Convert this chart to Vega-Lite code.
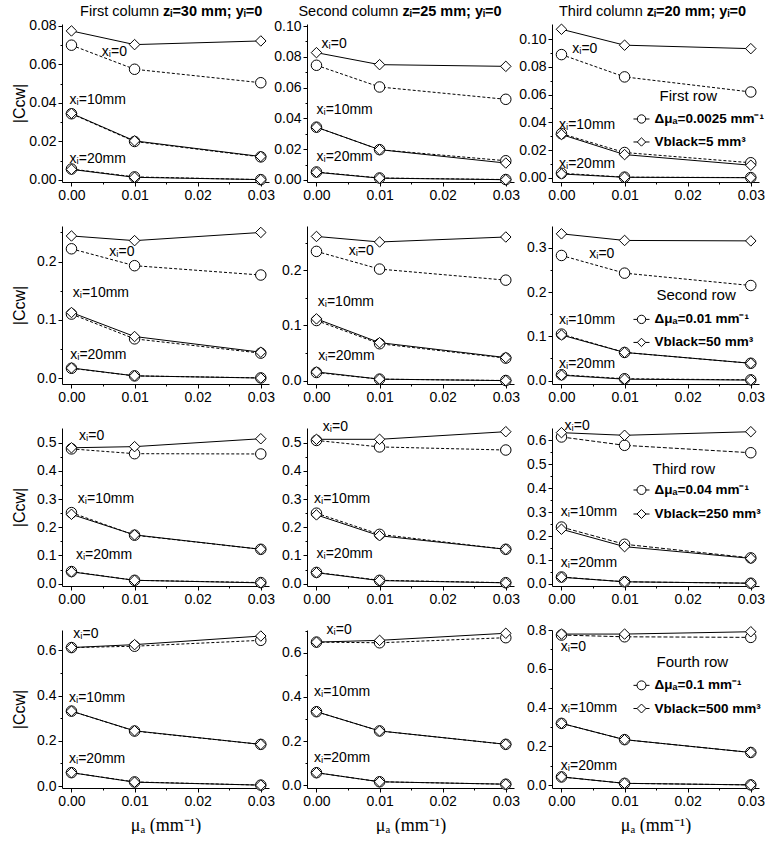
{
"$schema":"https://vega.github.io/schema/vega-lite/v6.json",
"padding":{"left":11,"top":3,"right":0,"bottom":0},
"background":"white",
"datasets":{
"curves":[
{"r":1,"c":1,"xi":0,"s":"dmu","mu":0,"C":0.0700},{"r":1,"c":1,"xi":0,"s":"dmu","mu":0.01,"C":0.0575},{"r":1,"c":1,"xi":0,"s":"dmu","mu":0.03,"C":0.0505},
{"r":1,"c":1,"xi":0,"s":"vb","mu":0,"C":0.0774},{"r":1,"c":1,"xi":0,"s":"vb","mu":0.01,"C":0.0703},{"r":1,"c":1,"xi":0,"s":"vb","mu":0.03,"C":0.0722},
{"r":1,"c":1,"xi":10,"s":"dmu","mu":0,"C":0.0344},{"r":1,"c":1,"xi":10,"s":"dmu","mu":0.01,"C":0.0200},{"r":1,"c":1,"xi":10,"s":"dmu","mu":0.03,"C":0.0120},
{"r":1,"c":1,"xi":10,"s":"vb","mu":0,"C":0.0346},{"r":1,"c":1,"xi":10,"s":"vb","mu":0.01,"C":0.0203},{"r":1,"c":1,"xi":10,"s":"vb","mu":0.03,"C":0.0122},
{"r":1,"c":1,"xi":20,"s":"dmu","mu":0,"C":0.0057},{"r":1,"c":1,"xi":20,"s":"dmu","mu":0.01,"C":0.0016},{"r":1,"c":1,"xi":20,"s":"dmu","mu":0.03,"C":0.0002},
{"r":1,"c":1,"xi":20,"s":"vb","mu":0,"C":0.0055},{"r":1,"c":1,"xi":20,"s":"vb","mu":0.01,"C":0.0014},{"r":1,"c":1,"xi":20,"s":"vb","mu":0.03,"C":0.0002},
{"r":1,"c":2,"xi":0,"s":"dmu","mu":0,"C":0.0745},{"r":1,"c":2,"xi":0,"s":"dmu","mu":0.01,"C":0.0604},{"r":1,"c":2,"xi":0,"s":"dmu","mu":0.03,"C":0.0524},
{"r":1,"c":2,"xi":0,"s":"vb","mu":0,"C":0.0827},{"r":1,"c":2,"xi":0,"s":"vb","mu":0.01,"C":0.0749},{"r":1,"c":2,"xi":0,"s":"vb","mu":0.03,"C":0.0738},
{"r":1,"c":2,"xi":10,"s":"dmu","mu":0,"C":0.0343},{"r":1,"c":2,"xi":10,"s":"dmu","mu":0.01,"C":0.0197},{"r":1,"c":2,"xi":10,"s":"dmu","mu":0.03,"C":0.0125},
{"r":1,"c":2,"xi":10,"s":"vb","mu":0,"C":0.0343},{"r":1,"c":2,"xi":10,"s":"vb","mu":0.01,"C":0.0197},{"r":1,"c":2,"xi":10,"s":"vb","mu":0.03,"C":0.0110},
{"r":1,"c":2,"xi":20,"s":"dmu","mu":0,"C":0.0052},{"r":1,"c":2,"xi":20,"s":"dmu","mu":0.01,"C":0.0013},{"r":1,"c":2,"xi":20,"s":"dmu","mu":0.03,"C":0.0003},
{"r":1,"c":2,"xi":20,"s":"vb","mu":0,"C":0.0050},{"r":1,"c":2,"xi":20,"s":"vb","mu":0.01,"C":0.0012},{"r":1,"c":2,"xi":20,"s":"vb","mu":0.03,"C":0.0002},
{"r":1,"c":3,"xi":0,"s":"dmu","mu":0,"C":0.0889},{"r":1,"c":3,"xi":0,"s":"dmu","mu":0.01,"C":0.0728},{"r":1,"c":3,"xi":0,"s":"dmu","mu":0.03,"C":0.0619},
{"r":1,"c":3,"xi":0,"s":"vb","mu":0,"C":0.1072},{"r":1,"c":3,"xi":0,"s":"vb","mu":0.01,"C":0.0957},{"r":1,"c":3,"xi":0,"s":"vb","mu":0.03,"C":0.0932},
{"r":1,"c":3,"xi":10,"s":"dmu","mu":0,"C":0.0318},{"r":1,"c":3,"xi":10,"s":"dmu","mu":0.01,"C":0.0182},{"r":1,"c":3,"xi":10,"s":"dmu","mu":0.03,"C":0.0108},
{"r":1,"c":3,"xi":10,"s":"vb","mu":0,"C":0.0312},{"r":1,"c":3,"xi":10,"s":"vb","mu":0.01,"C":0.0167},{"r":1,"c":3,"xi":10,"s":"vb","mu":0.03,"C":0.0090},
{"r":1,"c":3,"xi":20,"s":"dmu","mu":0,"C":0.0032},{"r":1,"c":3,"xi":20,"s":"dmu","mu":0.01,"C":0.0004},{"r":1,"c":3,"xi":20,"s":"dmu","mu":0.03,"C":0.0001},
{"r":1,"c":3,"xi":20,"s":"vb","mu":0,"C":0.0027},{"r":1,"c":3,"xi":20,"s":"vb","mu":0.01,"C":0.0003},{"r":1,"c":3,"xi":20,"s":"vb","mu":0.03,"C":0.0000},
{"r":2,"c":1,"xi":0,"s":"dmu","mu":0,"C":0.222},{"r":2,"c":1,"xi":0,"s":"dmu","mu":0.01,"C":0.193},{"r":2,"c":1,"xi":0,"s":"dmu","mu":0.03,"C":0.177},
{"r":2,"c":1,"xi":0,"s":"vb","mu":0,"C":0.244},{"r":2,"c":1,"xi":0,"s":"vb","mu":0.01,"C":0.236},{"r":2,"c":1,"xi":0,"s":"vb","mu":0.03,"C":0.250},
{"r":2,"c":1,"xi":10,"s":"dmu","mu":0,"C":0.110},{"r":2,"c":1,"xi":10,"s":"dmu","mu":0.01,"C":0.0675},{"r":2,"c":1,"xi":10,"s":"dmu","mu":0.03,"C":0.043},
{"r":2,"c":1,"xi":10,"s":"vb","mu":0,"C":0.1127},{"r":2,"c":1,"xi":10,"s":"vb","mu":0.01,"C":0.0715},{"r":2,"c":1,"xi":10,"s":"vb","mu":0.03,"C":0.0446},
{"r":2,"c":1,"xi":20,"s":"dmu","mu":0,"C":0.017},{"r":2,"c":1,"xi":20,"s":"dmu","mu":0.01,"C":0.004},{"r":2,"c":1,"xi":20,"s":"dmu","mu":0.03,"C":0.0005},
{"r":2,"c":1,"xi":20,"s":"vb","mu":0,"C":0.0175},{"r":2,"c":1,"xi":20,"s":"vb","mu":0.01,"C":0.004},{"r":2,"c":1,"xi":20,"s":"vb","mu":0.03,"C":0.0003},
{"r":2,"c":2,"xi":0,"s":"dmu","mu":0,"C":0.234},{"r":2,"c":2,"xi":0,"s":"dmu","mu":0.01,"C":0.202},{"r":2,"c":2,"xi":0,"s":"dmu","mu":0.03,"C":0.182},
{"r":2,"c":2,"xi":0,"s":"vb","mu":0,"C":0.261},{"r":2,"c":2,"xi":0,"s":"vb","mu":0.01,"C":0.251},{"r":2,"c":2,"xi":0,"s":"vb","mu":0.03,"C":0.260},
{"r":2,"c":2,"xi":10,"s":"dmu","mu":0,"C":0.109},{"r":2,"c":2,"xi":10,"s":"dmu","mu":0.01,"C":0.067},{"r":2,"c":2,"xi":10,"s":"dmu","mu":0.03,"C":0.041},
{"r":2,"c":2,"xi":10,"s":"vb","mu":0,"C":0.112},{"r":2,"c":2,"xi":10,"s":"vb","mu":0.01,"C":0.069},{"r":2,"c":2,"xi":10,"s":"vb","mu":0.03,"C":0.042},
{"r":2,"c":2,"xi":20,"s":"dmu","mu":0,"C":0.015},{"r":2,"c":2,"xi":20,"s":"dmu","mu":0.01,"C":0.003},{"r":2,"c":2,"xi":20,"s":"dmu","mu":0.03,"C":0.0005},
{"r":2,"c":2,"xi":20,"s":"vb","mu":0,"C":0.016},{"r":2,"c":2,"xi":20,"s":"vb","mu":0.01,"C":0.003},{"r":2,"c":2,"xi":20,"s":"vb","mu":0.03,"C":0.0003},
{"r":2,"c":3,"xi":0,"s":"dmu","mu":0,"C":0.283},{"r":2,"c":3,"xi":0,"s":"dmu","mu":0.01,"C":0.243},{"r":2,"c":3,"xi":0,"s":"dmu","mu":0.03,"C":0.215},
{"r":2,"c":3,"xi":0,"s":"vb","mu":0,"C":0.332},{"r":2,"c":3,"xi":0,"s":"vb","mu":0.01,"C":0.317},{"r":2,"c":3,"xi":0,"s":"vb","mu":0.03,"C":0.316},
{"r":2,"c":3,"xi":10,"s":"dmu","mu":0,"C":0.105},{"r":2,"c":3,"xi":10,"s":"dmu","mu":0.01,"C":0.0635},{"r":2,"c":3,"xi":10,"s":"dmu","mu":0.03,"C":0.039},
{"r":2,"c":3,"xi":10,"s":"vb","mu":0,"C":0.103},{"r":2,"c":3,"xi":10,"s":"vb","mu":0.01,"C":0.0635},{"r":2,"c":3,"xi":10,"s":"vb","mu":0.03,"C":0.039},
{"r":2,"c":3,"xi":20,"s":"dmu","mu":0,"C":0.013},{"r":2,"c":3,"xi":20,"s":"dmu","mu":0.01,"C":0.004},{"r":2,"c":3,"xi":20,"s":"dmu","mu":0.03,"C":0.0015},
{"r":2,"c":3,"xi":20,"s":"vb","mu":0,"C":0.012},{"r":2,"c":3,"xi":20,"s":"vb","mu":0.01,"C":0.003},{"r":2,"c":3,"xi":20,"s":"vb","mu":0.03,"C":0.001},
{"r":3,"c":1,"xi":0,"s":"dmu","mu":0,"C":0.478},{"r":3,"c":1,"xi":0,"s":"dmu","mu":0.01,"C":0.461},{"r":3,"c":1,"xi":0,"s":"dmu","mu":0.03,"C":0.460},
{"r":3,"c":1,"xi":0,"s":"vb","mu":0,"C":0.482},{"r":3,"c":1,"xi":0,"s":"vb","mu":0.01,"C":0.486},{"r":3,"c":1,"xi":0,"s":"vb","mu":0.03,"C":0.514},
{"r":3,"c":1,"xi":10,"s":"dmu","mu":0,"C":0.252},{"r":3,"c":1,"xi":10,"s":"dmu","mu":0.01,"C":0.172},{"r":3,"c":1,"xi":10,"s":"dmu","mu":0.03,"C":0.122},
{"r":3,"c":1,"xi":10,"s":"vb","mu":0,"C":0.246},{"r":3,"c":1,"xi":10,"s":"vb","mu":0.01,"C":0.173},{"r":3,"c":1,"xi":10,"s":"vb","mu":0.03,"C":0.122},
{"r":3,"c":1,"xi":20,"s":"dmu","mu":0,"C":0.043},{"r":3,"c":1,"xi":20,"s":"dmu","mu":0.01,"C":0.012},{"r":3,"c":1,"xi":20,"s":"dmu","mu":0.03,"C":0.004},
{"r":3,"c":1,"xi":20,"s":"vb","mu":0,"C":0.042},{"r":3,"c":1,"xi":20,"s":"vb","mu":0.01,"C":0.012},{"r":3,"c":1,"xi":20,"s":"vb","mu":0.03,"C":0.003},
{"r":3,"c":2,"xi":0,"s":"dmu","mu":0,"C":0.508},{"r":3,"c":2,"xi":0,"s":"dmu","mu":0.01,"C":0.485},{"r":3,"c":2,"xi":0,"s":"dmu","mu":0.03,"C":0.474},
{"r":3,"c":2,"xi":0,"s":"vb","mu":0,"C":0.512},{"r":3,"c":2,"xi":0,"s":"vb","mu":0.01,"C":0.512},{"r":3,"c":2,"xi":0,"s":"vb","mu":0.03,"C":0.539},
{"r":3,"c":2,"xi":10,"s":"dmu","mu":0,"C":0.250},{"r":3,"c":2,"xi":10,"s":"dmu","mu":0.01,"C":0.175},{"r":3,"c":2,"xi":10,"s":"dmu","mu":0.03,"C":0.122},
{"r":3,"c":2,"xi":10,"s":"vb","mu":0,"C":0.244},{"r":3,"c":2,"xi":10,"s":"vb","mu":0.01,"C":0.170},{"r":3,"c":2,"xi":10,"s":"vb","mu":0.03,"C":0.122},
{"r":3,"c":2,"xi":20,"s":"dmu","mu":0,"C":0.040},{"r":3,"c":2,"xi":20,"s":"dmu","mu":0.01,"C":0.012},{"r":3,"c":2,"xi":20,"s":"dmu","mu":0.03,"C":0.0035},
{"r":3,"c":2,"xi":20,"s":"vb","mu":0,"C":0.039},{"r":3,"c":2,"xi":20,"s":"vb","mu":0.01,"C":0.011},{"r":3,"c":2,"xi":20,"s":"vb","mu":0.03,"C":0.003},
{"r":3,"c":3,"xi":0,"s":"dmu","mu":0,"C":0.614},{"r":3,"c":3,"xi":0,"s":"dmu","mu":0.01,"C":0.579},{"r":3,"c":3,"xi":0,"s":"dmu","mu":0.03,"C":0.548},
{"r":3,"c":3,"xi":0,"s":"vb","mu":0,"C":0.632},{"r":3,"c":3,"xi":0,"s":"vb","mu":0.01,"C":0.621},{"r":3,"c":3,"xi":0,"s":"vb","mu":0.03,"C":0.636},
{"r":3,"c":3,"xi":10,"s":"dmu","mu":0,"C":0.237},{"r":3,"c":3,"xi":10,"s":"dmu","mu":0.01,"C":0.165},{"r":3,"c":3,"xi":10,"s":"dmu","mu":0.03,"C":0.108},
{"r":3,"c":3,"xi":10,"s":"vb","mu":0,"C":0.228},{"r":3,"c":3,"xi":10,"s":"vb","mu":0.01,"C":0.155},{"r":3,"c":3,"xi":10,"s":"vb","mu":0.03,"C":0.106},
{"r":3,"c":3,"xi":20,"s":"dmu","mu":0,"C":0.028},{"r":3,"c":3,"xi":20,"s":"dmu","mu":0.01,"C":0.008},{"r":3,"c":3,"xi":20,"s":"dmu","mu":0.03,"C":0.002},
{"r":3,"c":3,"xi":20,"s":"vb","mu":0,"C":0.027},{"r":3,"c":3,"xi":20,"s":"vb","mu":0.01,"C":0.008},{"r":3,"c":3,"xi":20,"s":"vb","mu":0.03,"C":0.002},
{"r":4,"c":1,"xi":0,"s":"dmu","mu":0,"C":0.612},{"r":4,"c":1,"xi":0,"s":"dmu","mu":0.01,"C":0.618},{"r":4,"c":1,"xi":0,"s":"dmu","mu":0.03,"C":0.644},
{"r":4,"c":1,"xi":0,"s":"vb","mu":0,"C":0.612},{"r":4,"c":1,"xi":0,"s":"vb","mu":0.01,"C":0.625},{"r":4,"c":1,"xi":0,"s":"vb","mu":0.03,"C":0.663},
{"r":4,"c":1,"xi":10,"s":"dmu","mu":0,"C":0.331},{"r":4,"c":1,"xi":10,"s":"dmu","mu":0.01,"C":0.243},{"r":4,"c":1,"xi":10,"s":"dmu","mu":0.03,"C":0.184},
{"r":4,"c":1,"xi":10,"s":"vb","mu":0,"C":0.331},{"r":4,"c":1,"xi":10,"s":"vb","mu":0.01,"C":0.244},{"r":4,"c":1,"xi":10,"s":"vb","mu":0.03,"C":0.184},
{"r":4,"c":1,"xi":20,"s":"dmu","mu":0,"C":0.059},{"r":4,"c":1,"xi":20,"s":"dmu","mu":0.01,"C":0.018},{"r":4,"c":1,"xi":20,"s":"dmu","mu":0.03,"C":0.004},
{"r":4,"c":1,"xi":20,"s":"vb","mu":0,"C":0.059},{"r":4,"c":1,"xi":20,"s":"vb","mu":0.01,"C":0.017},{"r":4,"c":1,"xi":20,"s":"vb","mu":0.03,"C":0.004},
{"r":4,"c":2,"xi":0,"s":"dmu","mu":0,"C":0.648},{"r":4,"c":2,"xi":0,"s":"dmu","mu":0.01,"C":0.645},{"r":4,"c":2,"xi":0,"s":"dmu","mu":0.03,"C":0.668},
{"r":4,"c":2,"xi":0,"s":"vb","mu":0,"C":0.648},{"r":4,"c":2,"xi":0,"s":"vb","mu":0.01,"C":0.656},{"r":4,"c":2,"xi":0,"s":"vb","mu":0.03,"C":0.688},
{"r":4,"c":2,"xi":10,"s":"dmu","mu":0,"C":0.333},{"r":4,"c":2,"xi":10,"s":"dmu","mu":0.01,"C":0.246},{"r":4,"c":2,"xi":10,"s":"dmu","mu":0.03,"C":0.1855},
{"r":4,"c":2,"xi":10,"s":"vb","mu":0,"C":0.333},{"r":4,"c":2,"xi":10,"s":"vb","mu":0.01,"C":0.246},{"r":4,"c":2,"xi":10,"s":"vb","mu":0.03,"C":0.1855},
{"r":4,"c":2,"xi":20,"s":"dmu","mu":0,"C":0.057},{"r":4,"c":2,"xi":20,"s":"dmu","mu":0.01,"C":0.016},{"r":4,"c":2,"xi":20,"s":"dmu","mu":0.03,"C":0.005},
{"r":4,"c":2,"xi":20,"s":"vb","mu":0,"C":0.057},{"r":4,"c":2,"xi":20,"s":"vb","mu":0.01,"C":0.016},{"r":4,"c":2,"xi":20,"s":"vb","mu":0.03,"C":0.005},
{"r":4,"c":3,"xi":0,"s":"dmu","mu":0,"C":0.774},{"r":4,"c":3,"xi":0,"s":"dmu","mu":0.01,"C":0.765},{"r":4,"c":3,"xi":0,"s":"dmu","mu":0.03,"C":0.762},
{"r":4,"c":3,"xi":0,"s":"vb","mu":0,"C":0.779},{"r":4,"c":3,"xi":0,"s":"vb","mu":0.01,"C":0.779},{"r":4,"c":3,"xi":0,"s":"vb","mu":0.03,"C":0.791},
{"r":4,"c":3,"xi":10,"s":"dmu","mu":0,"C":0.319},{"r":4,"c":3,"xi":10,"s":"dmu","mu":0.01,"C":0.235},{"r":4,"c":3,"xi":10,"s":"dmu","mu":0.03,"C":0.169},
{"r":4,"c":3,"xi":10,"s":"vb","mu":0,"C":0.319},{"r":4,"c":3,"xi":10,"s":"vb","mu":0.01,"C":0.235},{"r":4,"c":3,"xi":10,"s":"vb","mu":0.03,"C":0.169},
{"r":4,"c":3,"xi":20,"s":"dmu","mu":0,"C":0.043},{"r":4,"c":3,"xi":20,"s":"dmu","mu":0.01,"C":0.010},{"r":4,"c":3,"xi":20,"s":"dmu","mu":0.03,"C":0.002},
{"r":4,"c":3,"xi":20,"s":"vb","mu":0,"C":0.043},{"r":4,"c":3,"xi":20,"s":"vb","mu":0.01,"C":0.010},{"r":4,"c":3,"xi":20,"s":"vb","mu":0.03,"C":0.002}
],
"labels":[
{"r":1,"c":1,"k":"n","t":"xᵢ=0","mu":0.0048,"C":0.0665},{"r":1,"c":1,"k":"n","t":"xᵢ=10mm","mu":-0.0003,"C":0.0414},{"r":1,"c":1,"k":"n","t":"xᵢ=20mm","mu":-0.0003,"C":0.0111},
{"r":1,"c":2,"k":"n","t":"xᵢ=0","mu":0.0008,"C":0.0885},{"r":1,"c":2,"k":"n","t":"xᵢ=10mm","mu":0.0,"C":0.0453},{"r":1,"c":2,"k":"n","t":"xᵢ=20mm","mu":0.0,"C":0.0149},
{"r":1,"c":3,"k":"n","t":"xᵢ=0","mu":0.0017,"C":0.0932},{"r":1,"c":3,"k":"n","t":"xᵢ=10mm","mu":-0.0004,"C":0.0379},{"r":1,"c":3,"k":"n","t":"xᵢ=20mm","mu":-0.0004,"C":0.0101},
{"r":2,"c":1,"k":"n","t":"xᵢ=0","mu":0.006,"C":0.2173},{"r":2,"c":1,"k":"n","t":"xᵢ=10mm","mu":0.0002,"C":0.1458},{"r":2,"c":1,"k":"n","t":"xᵢ=20mm","mu":-0.0002,"C":0.040},
{"r":2,"c":2,"k":"n","t":"xᵢ=0","mu":0.0051,"C":0.2355},{"r":2,"c":2,"k":"n","t":"xᵢ=10mm","mu":0.0002,"C":0.1424},{"r":2,"c":2,"k":"n","t":"xᵢ=20mm","mu":0.0003,"C":0.044},
{"r":2,"c":3,"k":"n","t":"xᵢ=0","mu":0.0044,"C":0.2864},{"r":2,"c":3,"k":"n","t":"xᵢ=10mm","mu":-0.0004,"C":0.1376},{"r":2,"c":3,"k":"n","t":"xᵢ=20mm","mu":-0.0004,"C":0.0379},
{"r":3,"c":1,"k":"n","t":"xᵢ=0","mu":0.0012,"C":0.5237},{"r":3,"c":1,"k":"n","t":"xᵢ=10mm","mu":0.001,"C":0.299},{"r":3,"c":1,"k":"n","t":"xᵢ=20mm","mu":0.0007,"C":0.1018},
{"r":3,"c":2,"k":"n","t":"xᵢ=0","mu":0.001,"C":0.5557},{"r":3,"c":2,"k":"n","t":"xᵢ=10mm","mu":-0.0004,"C":0.299},{"r":3,"c":2,"k":"n","t":"xᵢ=20mm","mu":0.0,"C":0.104},
{"r":3,"c":3,"k":"n","t":"xᵢ=0","mu":0.0005,"C":0.66},{"r":3,"c":3,"k":"n","t":"xᵢ=10mm","mu":-0.0001,"C":0.30},{"r":3,"c":3,"k":"n","t":"xᵢ=20mm","mu":-0.0001,"C":0.0854},
{"r":4,"c":1,"k":"n","t":"xᵢ=0","mu":0.0003,"C":0.6707},{"r":4,"c":1,"k":"n","t":"xᵢ=10mm","mu":-0.0004,"C":0.39},{"r":4,"c":1,"k":"n","t":"xᵢ=20mm","mu":-0.0004,"C":0.118},
{"r":4,"c":2,"k":"n","t":"xᵢ=0","mu":0.0016,"C":0.701},{"r":4,"c":2,"k":"n","t":"xᵢ=10mm","mu":-0.0004,"C":0.4235},{"r":4,"c":2,"k":"n","t":"xᵢ=20mm","mu":-0.0004,"C":0.125},
{"r":4,"c":3,"k":"n","t":"xᵢ=0","mu":-0.0001,"C":0.713},{"r":4,"c":3,"k":"n","t":"xᵢ=10mm","mu":-0.0001,"C":0.399},{"r":4,"c":3,"k":"n","t":"xᵢ=20mm","mu":-0.0001,"C":0.10},
{"r":1,"c":1,"k":"h1","t":"First column","mu":0.0142,"C":0.0873},{"r":1,"c":1,"k":"h2","t":"zᵢ=30 mm; yᵢ=0","mu":0.0142,"C":0.0873},
{"r":1,"c":2,"k":"h1","t":"Second column","mu":0.0133,"C":0.1091},{"r":1,"c":2,"k":"h2","t":"zᵢ=25 mm; yᵢ=0","mu":0.0133,"C":0.1091},
{"r":1,"c":3,"k":"h1","t":"Third column","mu":0.0132,"C":0.1197},{"r":1,"c":3,"k":"h2","t":"zᵢ=20 mm; yᵢ=0","mu":0.0132,"C":0.1197},
{"r":1,"c":3,"k":"lt","t":"First row","mu":0.01553,"C":0.0590},{"r":1,"c":3,"k":"ll","t":"Δμₐ=0.0025 mm⁻¹","mu":0.01474,"C":0.0424},{"r":1,"c":3,"k":"ll","t":"Vblack=5 mm³","mu":0.01474,"C":0.0258},
{"r":2,"c":3,"k":"lt","t":"Second row","mu":0.01506,"C":0.1927},{"r":2,"c":3,"k":"ll","t":"Δμₐ=0.01 mm⁻¹","mu":0.01474,"C":0.1383},{"r":2,"c":3,"k":"ll","t":"Vblack=50 mm³","mu":0.01474,"C":0.0862},
{"r":3,"c":3,"k":"lt","t":"Third row","mu":0.01442,"C":0.4799},{"r":3,"c":3,"k":"ll","t":"Δμₐ=0.04 mm⁻¹","mu":0.01474,"C":0.3921},{"r":3,"c":3,"k":"ll","t":"Vblack=250 mm³","mu":0.01474,"C":0.2916},
{"r":4,"c":3,"k":"lt","t":"Fourth row","mu":0.01506,"C":0.6340},{"r":4,"c":3,"k":"ll","t":"Δμₐ=0.1 mm⁻¹","mu":0.01474,"C":0.5148},{"r":4,"c":3,"k":"ll","t":"Vblack=500 mm³","mu":0.01474,"C":0.3955}
],
"legsym":[
{"r":1,"s":"dmu","mu":0.01268,"lo":0.01141,"hi":0.01395,"C":0.0424},{"r":1,"s":"vb","mu":0.01268,"lo":0.01141,"hi":0.01395,"C":0.0258},
{"r":2,"s":"dmu","mu":0.01268,"lo":0.01141,"hi":0.01395,"C":0.1383},{"r":2,"s":"vb","mu":0.01268,"lo":0.01141,"hi":0.01395,"C":0.0862},
{"r":3,"s":"dmu","mu":0.01268,"lo":0.01141,"hi":0.01395,"C":0.3921},{"r":3,"s":"vb","mu":0.01268,"lo":0.01141,"hi":0.01395,"C":0.2916},
{"r":4,"s":"dmu","mu":0.01268,"lo":0.01141,"hi":0.01395,"C":0.5148},{"r":4,"s":"vb","mu":0.01268,"lo":0.01141,"hi":0.01395,"C":0.3955}
]
},
"concat":[
{"width":207,"height":158,
 "encoding":{"x":{"field":"mu","type":"quantitative","scale":{"domain":[-0.0015,0.0313],"nice":false,"zero":false},"axis":null},
  "y":{"field":"C","type":"quantitative","scale":{"domain":[-0.00104,0.081],"nice":false,"zero":false},"axis":null}},
 "layer":[
  {"data":{"name":"curves"},"transform":[{"filter":"datum.r==1&&datum.c==1&&datum.s=='dmu'"}],"mark":{"type":"line","color":"black","strokeWidth":1,"strokeDash":[3,2]},"encoding":{"detail":{"field":"xi","type":"nominal"}}},
  {"data":{"name":"curves"},"transform":[{"filter":"datum.r==1&&datum.c==1&&datum.s=='vb'"}],"mark":{"type":"line","color":"black","strokeWidth":1},
   "encoding":{"x":{"field":"mu","type":"quantitative","scale":{"domain":[-0.0015,0.0313],"nice":false,"zero":false},"axis":{"values":[0,0.01,0.02,0.03],"format":".2f","title":null}},
    "y":{"field":"C","type":"quantitative","scale":{"domain":[-0.00104,0.081],"nice":false,"zero":false},"axis":{"values":[0,0.02,0.04,0.06,0.08],"format":".2f","title":"|Cᴄᴡ|"}},
    "detail":{"field":"xi","type":"nominal"}}},
  {"data":{"name":"curves"},"transform":[{"filter":"datum.r==1&&datum.c==1"}],"mark":{"type":"point","filled":true,"fill":"white","stroke":"black","strokeWidth":1,"size":110,"opacity":1},
   "encoding":{"x":{"field":"mu","type":"quantitative","scale":{"domain":[-0.0015,0.0313],"nice":false,"zero":false},"axis":{"orient":"bottom","values":[0.005,0.015,0.025],"labels":false,"domain":false,"tickSize":2,"title":null}},
    "y":{"field":"C","type":"quantitative","scale":{"domain":[-0.00104,0.081],"nice":false,"zero":false},"axis":{"orient":"left","values":[0.01,0.03,0.05,0.07],"labels":false,"domain":false,"tickSize":2,"title":null}},
    "shape":{"field":"s","type":"nominal","scale":{"domain":["dmu","vb"],"range":["circle","diamond"]},"legend":null}}},
  {"data":{"name":"labels"},"transform":[{"filter":"datum.r==1&&datum.c==1&&datum.k=='n'"}],"mark":{"type":"text","align":"left","baseline":"middle","fontSize":14},"encoding":{"text":{"field":"t","type":"nominal"}}},
  {"data":{"name":"labels"},"transform":[{"filter":"datum.c==1&&datum.k=='h1'"}],"mark":{"type":"text","align":"right","baseline":"middle","fontSize":14.5,"dx":-2},"encoding":{"text":{"field":"t","type":"nominal"}}},
  {"data":{"name":"labels"},"transform":[{"filter":"datum.c==1&&datum.k=='h2'"}],"mark":{"type":"text","align":"left","baseline":"middle","fontSize":14.5,"fontWeight":"bold","dx":2},"encoding":{"text":{"field":"t","type":"nominal"}}}
 ],
 "resolve":{"axis":{"x":"independent","y":"independent"}}},
{"width":207,"height":158,
 "encoding":{"x":{"field":"mu","type":"quantitative","scale":{"domain":[-0.0015,0.0313],"nice":false,"zero":false},"axis":null},
  "y":{"field":"C","type":"quantitative","scale":{"domain":[-0.0013,0.1013],"nice":false,"zero":false},"axis":null}},
 "layer":[
  {"data":{"name":"curves"},"transform":[{"filter":"datum.r==1&&datum.c==2&&datum.s=='dmu'"}],"mark":{"type":"line","color":"black","strokeWidth":1,"strokeDash":[3,2]},"encoding":{"detail":{"field":"xi","type":"nominal"}}},
  {"data":{"name":"curves"},"transform":[{"filter":"datum.r==1&&datum.c==2&&datum.s=='vb'"}],"mark":{"type":"line","color":"black","strokeWidth":1},
   "encoding":{"x":{"field":"mu","type":"quantitative","scale":{"domain":[-0.0015,0.0313],"nice":false,"zero":false},"axis":{"values":[0,0.01,0.02,0.03],"format":".2f","title":null}},
    "y":{"field":"C","type":"quantitative","scale":{"domain":[-0.0013,0.1013],"nice":false,"zero":false},"axis":{"values":[0,0.02,0.04,0.06,0.08,0.1],"format":".2f","title":null}},
    "detail":{"field":"xi","type":"nominal"}}},
  {"data":{"name":"curves"},"transform":[{"filter":"datum.r==1&&datum.c==2"}],"mark":{"type":"point","filled":true,"fill":"white","stroke":"black","strokeWidth":1,"size":110,"opacity":1},
   "encoding":{"x":{"field":"mu","type":"quantitative","scale":{"domain":[-0.0015,0.0313],"nice":false,"zero":false},"axis":{"orient":"bottom","values":[0.005,0.015,0.025],"labels":false,"domain":false,"tickSize":2,"title":null}},
    "y":{"field":"C","type":"quantitative","scale":{"domain":[-0.0013,0.1013],"nice":false,"zero":false},"axis":{"orient":"left","values":[0.01,0.03,0.05,0.07,0.09],"labels":false,"domain":false,"tickSize":2,"title":null}},
    "shape":{"field":"s","type":"nominal","scale":{"domain":["dmu","vb"],"range":["circle","diamond"]},"legend":null}}},
  {"data":{"name":"labels"},"transform":[{"filter":"datum.r==1&&datum.c==2&&datum.k=='n'"}],"mark":{"type":"text","align":"left","baseline":"middle","fontSize":14},"encoding":{"text":{"field":"t","type":"nominal"}}},
  {"data":{"name":"labels"},"transform":[{"filter":"datum.c==2&&datum.k=='h1'"}],"mark":{"type":"text","align":"right","baseline":"middle","fontSize":14.5,"dx":-2},"encoding":{"text":{"field":"t","type":"nominal"}}},
  {"data":{"name":"labels"},"transform":[{"filter":"datum.c==2&&datum.k=='h2'"}],"mark":{"type":"text","align":"left","baseline":"middle","fontSize":14.5,"fontWeight":"bold","dx":2},"encoding":{"text":{"field":"t","type":"nominal"}}}
 ],
 "resolve":{"axis":{"x":"independent","y":"independent"}}},
{"width":207,"height":158,
 "encoding":{"x":{"field":"mu","type":"quantitative","scale":{"domain":[-0.0015,0.0313],"nice":false,"zero":false},"axis":null},
  "y":{"field":"C","type":"quantitative","scale":{"domain":[-0.0031,0.111],"nice":false,"zero":false},"axis":null}},
 "layer":[
  {"data":{"name":"curves"},"transform":[{"filter":"datum.r==1&&datum.c==3&&datum.s=='dmu'"}],"mark":{"type":"line","color":"black","strokeWidth":1,"strokeDash":[3,2]},"encoding":{"detail":{"field":"xi","type":"nominal"}}},
  {"data":{"name":"curves"},"transform":[{"filter":"datum.r==1&&datum.c==3&&datum.s=='vb'"}],"mark":{"type":"line","color":"black","strokeWidth":1},
   "encoding":{"x":{"field":"mu","type":"quantitative","scale":{"domain":[-0.0015,0.0313],"nice":false,"zero":false},"axis":{"values":[0,0.01,0.02,0.03],"format":".2f","title":null}},
    "y":{"field":"C","type":"quantitative","scale":{"domain":[-0.0031,0.111],"nice":false,"zero":false},"axis":{"values":[0,0.02,0.04,0.06,0.08,0.1],"format":".2f","title":null}},
    "detail":{"field":"xi","type":"nominal"}}},
  {"data":{"name":"curves"},"transform":[{"filter":"datum.r==1&&datum.c==3"}],"mark":{"type":"point","filled":true,"fill":"white","stroke":"black","strokeWidth":1,"size":110,"opacity":1},
   "encoding":{"x":{"field":"mu","type":"quantitative","scale":{"domain":[-0.0015,0.0313],"nice":false,"zero":false},"axis":{"orient":"bottom","values":[0.005,0.015,0.025],"labels":false,"domain":false,"tickSize":2,"title":null}},
    "y":{"field":"C","type":"quantitative","scale":{"domain":[-0.0031,0.111],"nice":false,"zero":false},"axis":{"orient":"left","values":[0.01,0.03,0.05,0.07,0.09],"labels":false,"domain":false,"tickSize":2,"title":null}},
    "shape":{"field":"s","type":"nominal","scale":{"domain":["dmu","vb"],"range":["circle","diamond"]},"legend":null}}},
  {"data":{"name":"labels"},"transform":[{"filter":"datum.r==1&&datum.c==3&&datum.k=='n'"}],"mark":{"type":"text","align":"left","baseline":"middle","fontSize":14},"encoding":{"text":{"field":"t","type":"nominal"}}},
  {"data":{"name":"labels"},"transform":[{"filter":"datum.c==3&&datum.k=='h1'"}],"mark":{"type":"text","align":"right","baseline":"middle","fontSize":14.5,"dx":-2},"encoding":{"text":{"field":"t","type":"nominal"}}},
  {"data":{"name":"labels"},"transform":[{"filter":"datum.c==3&&datum.k=='h2'"}],"mark":{"type":"text","align":"left","baseline":"middle","fontSize":14.5,"fontWeight":"bold","dx":2},"encoding":{"text":{"field":"t","type":"nominal"}}},
  {"data":{"name":"legsym"},"transform":[{"filter":"datum.r==1"}],"mark":{"type":"rule","color":"black","strokeWidth":1},"encoding":{"x":{"field":"lo","type":"quantitative","scale":{"domain":[-0.0015,0.0313],"nice":false,"zero":false},"axis":null},"x2":{"field":"hi"}}},
  {"data":{"name":"legsym"},"transform":[{"filter":"datum.r==1"}],"mark":{"type":"point","filled":true,"fill":"white","stroke":"black","strokeWidth":1,"size":70,"opacity":1},"encoding":{"shape":{"field":"s","type":"nominal","scale":{"domain":["dmu","vb"],"range":["circle","diamond"]},"legend":null}}},
  {"data":{"name":"labels"},"transform":[{"filter":"datum.r==1&&datum.k=='lt'"}],"mark":{"type":"text","align":"left","baseline":"middle","fontSize":15},"encoding":{"text":{"field":"t","type":"nominal"}}},
  {"data":{"name":"labels"},"transform":[{"filter":"datum.r==1&&datum.k=='ll'"}],"mark":{"type":"text","align":"left","baseline":"middle","fontSize":13.5,"fontWeight":"bold"},"encoding":{"text":{"field":"t","type":"nominal"}}}
 ],
 "resolve":{"axis":{"x":"independent","y":"independent"}}},
{"width":207,"height":158,
 "encoding":{"x":{"field":"mu","type":"quantitative","scale":{"domain":[-0.0015,0.0313],"nice":false,"zero":false},"axis":null},
  "y":{"field":"C","type":"quantitative","scale":{"domain":[-0.00995,0.2611],"nice":false,"zero":false},"axis":null}},
 "layer":[
  {"data":{"name":"curves"},"transform":[{"filter":"datum.r==2&&datum.c==1&&datum.s=='dmu'"}],"mark":{"type":"line","color":"black","strokeWidth":1,"strokeDash":[3,2]},"encoding":{"detail":{"field":"xi","type":"nominal"}}},
  {"data":{"name":"curves"},"transform":[{"filter":"datum.r==2&&datum.c==1&&datum.s=='vb'"}],"mark":{"type":"line","color":"black","strokeWidth":1},
   "encoding":{"x":{"field":"mu","type":"quantitative","scale":{"domain":[-0.0015,0.0313],"nice":false,"zero":false},"axis":{"values":[0,0.01,0.02,0.03],"format":".2f","title":null}},
    "y":{"field":"C","type":"quantitative","scale":{"domain":[-0.00995,0.2611],"nice":false,"zero":false},"axis":{"values":[0,0.1,0.2],"format":".1f","title":"|Cᴄᴡ|"}},
    "detail":{"field":"xi","type":"nominal"}}},
  {"data":{"name":"curves"},"transform":[{"filter":"datum.r==2&&datum.c==1"}],"mark":{"type":"point","filled":true,"fill":"white","stroke":"black","strokeWidth":1,"size":110,"opacity":1},
   "encoding":{"x":{"field":"mu","type":"quantitative","scale":{"domain":[-0.0015,0.0313],"nice":false,"zero":false},"axis":{"orient":"bottom","values":[0.005,0.015,0.025],"labels":false,"domain":false,"tickSize":2,"title":null}},
    "y":{"field":"C","type":"quantitative","scale":{"domain":[-0.00995,0.2611],"nice":false,"zero":false},"axis":{"orient":"left","values":[0.05,0.15,0.25],"labels":false,"domain":false,"tickSize":2,"title":null}},
    "shape":{"field":"s","type":"nominal","scale":{"domain":["dmu","vb"],"range":["circle","diamond"]},"legend":null}}},
  {"data":{"name":"labels"},"transform":[{"filter":"datum.r==2&&datum.c==1&&datum.k=='n'"}],"mark":{"type":"text","align":"left","baseline":"middle","fontSize":14},"encoding":{"text":{"field":"t","type":"nominal"}}}
 ],
 "resolve":{"axis":{"x":"independent","y":"independent"}}},
{"width":207,"height":158,
 "encoding":{"x":{"field":"mu","type":"quantitative","scale":{"domain":[-0.0015,0.0313],"nice":false,"zero":false},"axis":null},
  "y":{"field":"C","type":"quantitative","scale":{"domain":[-0.0058,0.2799],"nice":false,"zero":false},"axis":null}},
 "layer":[
  {"data":{"name":"curves"},"transform":[{"filter":"datum.r==2&&datum.c==2&&datum.s=='dmu'"}],"mark":{"type":"line","color":"black","strokeWidth":1,"strokeDash":[3,2]},"encoding":{"detail":{"field":"xi","type":"nominal"}}},
  {"data":{"name":"curves"},"transform":[{"filter":"datum.r==2&&datum.c==2&&datum.s=='vb'"}],"mark":{"type":"line","color":"black","strokeWidth":1},
   "encoding":{"x":{"field":"mu","type":"quantitative","scale":{"domain":[-0.0015,0.0313],"nice":false,"zero":false},"axis":{"values":[0,0.01,0.02,0.03],"format":".2f","title":null}},
    "y":{"field":"C","type":"quantitative","scale":{"domain":[-0.0058,0.2799],"nice":false,"zero":false},"axis":{"values":[0,0.1,0.2],"format":".1f","title":null}},
    "detail":{"field":"xi","type":"nominal"}}},
  {"data":{"name":"curves"},"transform":[{"filter":"datum.r==2&&datum.c==2"}],"mark":{"type":"point","filled":true,"fill":"white","stroke":"black","strokeWidth":1,"size":110,"opacity":1},
   "encoding":{"x":{"field":"mu","type":"quantitative","scale":{"domain":[-0.0015,0.0313],"nice":false,"zero":false},"axis":{"orient":"bottom","values":[0.005,0.015,0.025],"labels":false,"domain":false,"tickSize":2,"title":null}},
    "y":{"field":"C","type":"quantitative","scale":{"domain":[-0.0058,0.2799],"nice":false,"zero":false},"axis":{"orient":"left","values":[0.05,0.15,0.25],"labels":false,"domain":false,"tickSize":2,"title":null}},
    "shape":{"field":"s","type":"nominal","scale":{"domain":["dmu","vb"],"range":["circle","diamond"]},"legend":null}}},
  {"data":{"name":"labels"},"transform":[{"filter":"datum.r==2&&datum.c==2&&datum.k=='n'"}],"mark":{"type":"text","align":"left","baseline":"middle","fontSize":14},"encoding":{"text":{"field":"t","type":"nominal"}}}
 ],
 "resolve":{"axis":{"x":"independent","y":"independent"}}},
{"width":207,"height":158,
 "encoding":{"x":{"field":"mu","type":"quantitative","scale":{"domain":[-0.0015,0.0313],"nice":false,"zero":false},"axis":null},
  "y":{"field":"C","type":"quantitative","scale":{"domain":[-0.0079,0.3497],"nice":false,"zero":false},"axis":null}},
 "layer":[
  {"data":{"name":"curves"},"transform":[{"filter":"datum.r==2&&datum.c==3&&datum.s=='dmu'"}],"mark":{"type":"line","color":"black","strokeWidth":1,"strokeDash":[3,2]},"encoding":{"detail":{"field":"xi","type":"nominal"}}},
  {"data":{"name":"curves"},"transform":[{"filter":"datum.r==2&&datum.c==3&&datum.s=='vb'"}],"mark":{"type":"line","color":"black","strokeWidth":1},
   "encoding":{"x":{"field":"mu","type":"quantitative","scale":{"domain":[-0.0015,0.0313],"nice":false,"zero":false},"axis":{"values":[0,0.01,0.02,0.03],"format":".2f","title":null}},
    "y":{"field":"C","type":"quantitative","scale":{"domain":[-0.0079,0.3497],"nice":false,"zero":false},"axis":{"values":[0,0.1,0.2,0.3],"format":".1f","title":null}},
    "detail":{"field":"xi","type":"nominal"}}},
  {"data":{"name":"curves"},"transform":[{"filter":"datum.r==2&&datum.c==3"}],"mark":{"type":"point","filled":true,"fill":"white","stroke":"black","strokeWidth":1,"size":110,"opacity":1},
   "encoding":{"x":{"field":"mu","type":"quantitative","scale":{"domain":[-0.0015,0.0313],"nice":false,"zero":false},"axis":{"orient":"bottom","values":[0.005,0.015,0.025],"labels":false,"domain":false,"tickSize":2,"title":null}},
    "y":{"field":"C","type":"quantitative","scale":{"domain":[-0.0079,0.3497],"nice":false,"zero":false},"axis":{"orient":"left","values":[0.05,0.15,0.25],"labels":false,"domain":false,"tickSize":2,"title":null}},
    "shape":{"field":"s","type":"nominal","scale":{"domain":["dmu","vb"],"range":["circle","diamond"]},"legend":null}}},
  {"data":{"name":"labels"},"transform":[{"filter":"datum.r==2&&datum.c==3&&datum.k=='n'"}],"mark":{"type":"text","align":"left","baseline":"middle","fontSize":14},"encoding":{"text":{"field":"t","type":"nominal"}}},
  {"data":{"name":"legsym"},"transform":[{"filter":"datum.r==2"}],"mark":{"type":"rule","color":"black","strokeWidth":1},"encoding":{"x":{"field":"lo","type":"quantitative","scale":{"domain":[-0.0015,0.0313],"nice":false,"zero":false},"axis":null},"x2":{"field":"hi"}}},
  {"data":{"name":"legsym"},"transform":[{"filter":"datum.r==2"}],"mark":{"type":"point","filled":true,"fill":"white","stroke":"black","strokeWidth":1,"size":70,"opacity":1},"encoding":{"shape":{"field":"s","type":"nominal","scale":{"domain":["dmu","vb"],"range":["circle","diamond"]},"legend":null}}},
  {"data":{"name":"labels"},"transform":[{"filter":"datum.r==2&&datum.k=='lt'"}],"mark":{"type":"text","align":"left","baseline":"middle","fontSize":15},"encoding":{"text":{"field":"t","type":"nominal"}}},
  {"data":{"name":"labels"},"transform":[{"filter":"datum.r==2&&datum.k=='ll'"}],"mark":{"type":"text","align":"left","baseline":"middle","fontSize":13.5,"fontWeight":"bold"},"encoding":{"text":{"field":"t","type":"nominal"}}}
 ],
 "resolve":{"axis":{"x":"independent","y":"independent"}}},
{"width":207,"height":158,
 "encoding":{"x":{"field":"mu","type":"quantitative","scale":{"domain":[-0.0015,0.0313],"nice":false,"zero":false},"axis":null},
  "y":{"field":"C","type":"quantitative","scale":{"domain":[-0.0082,0.5521],"nice":false,"zero":false},"axis":null}},
 "layer":[
  {"data":{"name":"curves"},"transform":[{"filter":"datum.r==3&&datum.c==1&&datum.s=='dmu'"}],"mark":{"type":"line","color":"black","strokeWidth":1,"strokeDash":[3,2]},"encoding":{"detail":{"field":"xi","type":"nominal"}}},
  {"data":{"name":"curves"},"transform":[{"filter":"datum.r==3&&datum.c==1&&datum.s=='vb'"}],"mark":{"type":"line","color":"black","strokeWidth":1},
   "encoding":{"x":{"field":"mu","type":"quantitative","scale":{"domain":[-0.0015,0.0313],"nice":false,"zero":false},"axis":{"values":[0,0.01,0.02,0.03],"format":".2f","title":null}},
    "y":{"field":"C","type":"quantitative","scale":{"domain":[-0.0082,0.5521],"nice":false,"zero":false},"axis":{"values":[0,0.1,0.2,0.3,0.4,0.5],"format":".1f","title":"|Cᴄᴡ|"}},
    "detail":{"field":"xi","type":"nominal"}}},
  {"data":{"name":"curves"},"transform":[{"filter":"datum.r==3&&datum.c==1"}],"mark":{"type":"point","filled":true,"fill":"white","stroke":"black","strokeWidth":1,"size":110,"opacity":1},
   "encoding":{"x":{"field":"mu","type":"quantitative","scale":{"domain":[-0.0015,0.0313],"nice":false,"zero":false},"axis":{"orient":"bottom","values":[0.005,0.015,0.025],"labels":false,"domain":false,"tickSize":2,"title":null}},
    "y":{"field":"C","type":"quantitative","scale":{"domain":[-0.0082,0.5521],"nice":false,"zero":false},"axis":{"orient":"left","values":[0.05,0.15,0.25,0.35,0.45],"labels":false,"domain":false,"tickSize":2,"title":null}},
    "shape":{"field":"s","type":"nominal","scale":{"domain":["dmu","vb"],"range":["circle","diamond"]},"legend":null}}},
  {"data":{"name":"labels"},"transform":[{"filter":"datum.r==3&&datum.c==1&&datum.k=='n'"}],"mark":{"type":"text","align":"left","baseline":"middle","fontSize":14},"encoding":{"text":{"field":"t","type":"nominal"}}}
 ],
 "resolve":{"axis":{"x":"independent","y":"independent"}}},
{"width":207,"height":158,
 "encoding":{"x":{"field":"mu","type":"quantitative","scale":{"domain":[-0.0015,0.0313],"nice":false,"zero":false},"axis":null},
  "y":{"field":"C","type":"quantitative","scale":{"domain":[-0.0082,0.5521],"nice":false,"zero":false},"axis":null}},
 "layer":[
  {"data":{"name":"curves"},"transform":[{"filter":"datum.r==3&&datum.c==2&&datum.s=='dmu'"}],"mark":{"type":"line","color":"black","strokeWidth":1,"strokeDash":[3,2]},"encoding":{"detail":{"field":"xi","type":"nominal"}}},
  {"data":{"name":"curves"},"transform":[{"filter":"datum.r==3&&datum.c==2&&datum.s=='vb'"}],"mark":{"type":"line","color":"black","strokeWidth":1},
   "encoding":{"x":{"field":"mu","type":"quantitative","scale":{"domain":[-0.0015,0.0313],"nice":false,"zero":false},"axis":{"values":[0,0.01,0.02,0.03],"format":".2f","title":null}},
    "y":{"field":"C","type":"quantitative","scale":{"domain":[-0.0082,0.5521],"nice":false,"zero":false},"axis":{"values":[0,0.1,0.2,0.3,0.4,0.5],"format":".1f","title":null}},
    "detail":{"field":"xi","type":"nominal"}}},
  {"data":{"name":"curves"},"transform":[{"filter":"datum.r==3&&datum.c==2"}],"mark":{"type":"point","filled":true,"fill":"white","stroke":"black","strokeWidth":1,"size":110,"opacity":1},
   "encoding":{"x":{"field":"mu","type":"quantitative","scale":{"domain":[-0.0015,0.0313],"nice":false,"zero":false},"axis":{"orient":"bottom","values":[0.005,0.015,0.025],"labels":false,"domain":false,"tickSize":2,"title":null}},
    "y":{"field":"C","type":"quantitative","scale":{"domain":[-0.0082,0.5521],"nice":false,"zero":false},"axis":{"orient":"left","values":[0.05,0.15,0.25,0.35,0.45],"labels":false,"domain":false,"tickSize":2,"title":null}},
    "shape":{"field":"s","type":"nominal","scale":{"domain":["dmu","vb"],"range":["circle","diamond"]},"legend":null}}},
  {"data":{"name":"labels"},"transform":[{"filter":"datum.r==3&&datum.c==2&&datum.k=='n'"}],"mark":{"type":"text","align":"left","baseline":"middle","fontSize":14},"encoding":{"text":{"field":"t","type":"nominal"}}}
 ],
 "resolve":{"axis":{"x":"independent","y":"independent"}}},
{"width":207,"height":158,
 "encoding":{"x":{"field":"mu","type":"quantitative","scale":{"domain":[-0.0015,0.0313],"nice":false,"zero":false},"axis":null},
  "y":{"field":"C","type":"quantitative","scale":{"domain":[-0.0096,0.6515],"nice":false,"zero":false},"axis":null}},
 "layer":[
  {"data":{"name":"curves"},"transform":[{"filter":"datum.r==3&&datum.c==3&&datum.s=='dmu'"}],"mark":{"type":"line","color":"black","strokeWidth":1,"strokeDash":[4,2]},"encoding":{"detail":{"field":"xi","type":"nominal"}}},
  {"data":{"name":"curves"},"transform":[{"filter":"datum.r==3&&datum.c==3&&datum.s=='vb'"}],"mark":{"type":"line","color":"black","strokeWidth":1},
   "encoding":{"x":{"field":"mu","type":"quantitative","scale":{"domain":[-0.0015,0.0313],"nice":false,"zero":false},"axis":{"values":[0,0.01,0.02,0.03],"format":".2f","title":null}},
    "y":{"field":"C","type":"quantitative","scale":{"domain":[-0.0096,0.6515],"nice":false,"zero":false},"axis":{"values":[0,0.1,0.2,0.3,0.4,0.5,0.6],"format":".1f","title":null}},
    "detail":{"field":"xi","type":"nominal"}}},
  {"data":{"name":"curves"},"transform":[{"filter":"datum.r==3&&datum.c==3"}],"mark":{"type":"point","filled":true,"fill":"white","stroke":"black","strokeWidth":1,"size":110,"opacity":1},
   "encoding":{"x":{"field":"mu","type":"quantitative","scale":{"domain":[-0.0015,0.0313],"nice":false,"zero":false},"axis":{"orient":"bottom","values":[0.005,0.015,0.025],"labels":false,"domain":false,"tickSize":2,"title":null}},
    "y":{"field":"C","type":"quantitative","scale":{"domain":[-0.0096,0.6515],"nice":false,"zero":false},"axis":{"orient":"left","values":[0.05,0.15,0.25,0.35,0.45,0.55],"labels":false,"domain":false,"tickSize":2,"title":null}},
    "shape":{"field":"s","type":"nominal","scale":{"domain":["dmu","vb"],"range":["circle","diamond"]},"legend":null}}},
  {"data":{"name":"labels"},"transform":[{"filter":"datum.r==3&&datum.c==3&&datum.k=='n'"}],"mark":{"type":"text","align":"left","baseline":"middle","fontSize":14},"encoding":{"text":{"field":"t","type":"nominal"}}},
  {"data":{"name":"legsym"},"transform":[{"filter":"datum.r==3"}],"mark":{"type":"rule","color":"black","strokeWidth":1},"encoding":{"x":{"field":"lo","type":"quantitative","scale":{"domain":[-0.0015,0.0313],"nice":false,"zero":false},"axis":null},"x2":{"field":"hi"}}},
  {"data":{"name":"legsym"},"transform":[{"filter":"datum.r==3"}],"mark":{"type":"point","filled":true,"fill":"white","stroke":"black","strokeWidth":1,"size":80,"opacity":1},"encoding":{"shape":{"field":"s","type":"nominal","scale":{"domain":["dmu","vb"],"range":["circle","diamond"]},"legend":null}}},
  {"data":{"name":"labels"},"transform":[{"filter":"datum.r==3&&datum.k=='lt'"}],"mark":{"type":"text","align":"left","baseline":"middle","fontSize":15},"encoding":{"text":{"field":"t","type":"nominal"}}},
  {"data":{"name":"labels"},"transform":[{"filter":"datum.r==3&&datum.k=='ll'"}],"mark":{"type":"text","align":"left","baseline":"middle","fontSize":13.5,"fontWeight":"bold"},"encoding":{"text":{"field":"t","type":"nominal"}}}
 ],
 "resolve":{"axis":{"x":"independent","y":"independent"}}},
{"width":207,"height":158,
 "encoding":{"x":{"field":"mu","type":"quantitative","scale":{"domain":[-0.0015,0.0313],"nice":false,"zero":false},"axis":null},
  "y":{"field":"C","type":"quantitative","scale":{"domain":[-0.0088,0.6897],"nice":false,"zero":false},"axis":null}},
 "layer":[
  {"data":{"name":"curves"},"transform":[{"filter":"datum.r==4&&datum.c==1&&datum.s=='dmu'"}],"mark":{"type":"line","color":"black","strokeWidth":1,"strokeDash":[3,2]},"encoding":{"detail":{"field":"xi","type":"nominal"}}},
  {"data":{"name":"curves"},"transform":[{"filter":"datum.r==4&&datum.c==1&&datum.s=='vb'"}],"mark":{"type":"line","color":"black","strokeWidth":1},
   "encoding":{"x":{"field":"mu","type":"quantitative","scale":{"domain":[-0.0015,0.0313],"nice":false,"zero":false},"axis":{"values":[0,0.01,0.02,0.03],"format":".2f","title":"μₐ (mm⁻¹)"}},
    "y":{"field":"C","type":"quantitative","scale":{"domain":[-0.0088,0.6897],"nice":false,"zero":false},"axis":{"values":[0,0.2,0.4,0.6],"format":".1f","title":"|Cᴄᴡ|"}},
    "detail":{"field":"xi","type":"nominal"}}},
  {"data":{"name":"curves"},"transform":[{"filter":"datum.r==4&&datum.c==1"}],"mark":{"type":"point","filled":true,"fill":"white","stroke":"black","strokeWidth":1,"size":110,"opacity":1},
   "encoding":{"x":{"field":"mu","type":"quantitative","scale":{"domain":[-0.0015,0.0313],"nice":false,"zero":false},"axis":{"orient":"bottom","values":[0.005,0.015,0.025],"labels":false,"domain":false,"tickSize":2,"title":null}},
    "y":{"field":"C","type":"quantitative","scale":{"domain":[-0.0088,0.6897],"nice":false,"zero":false},"axis":{"orient":"left","values":[0.1,0.3,0.5],"labels":false,"domain":false,"tickSize":2,"title":null}},
    "shape":{"field":"s","type":"nominal","scale":{"domain":["dmu","vb"],"range":["circle","diamond"]},"legend":null}}},
  {"data":{"name":"labels"},"transform":[{"filter":"datum.r==4&&datum.c==1&&datum.k=='n'"}],"mark":{"type":"text","align":"left","baseline":"middle","fontSize":14},"encoding":{"text":{"field":"t","type":"nominal"}}}
 ],
 "resolve":{"axis":{"x":"independent","y":"independent"}}},
{"width":207,"height":158,
 "encoding":{"x":{"field":"mu","type":"quantitative","scale":{"domain":[-0.0015,0.0313],"nice":false,"zero":false},"axis":null},
  "y":{"field":"C","type":"quantitative","scale":{"domain":[-0.0122,0.7028],"nice":false,"zero":false},"axis":null}},
 "layer":[
  {"data":{"name":"curves"},"transform":[{"filter":"datum.r==4&&datum.c==2&&datum.s=='dmu'"}],"mark":{"type":"line","color":"black","strokeWidth":1,"strokeDash":[3,2]},"encoding":{"detail":{"field":"xi","type":"nominal"}}},
  {"data":{"name":"curves"},"transform":[{"filter":"datum.r==4&&datum.c==2&&datum.s=='vb'"}],"mark":{"type":"line","color":"black","strokeWidth":1},
   "encoding":{"x":{"field":"mu","type":"quantitative","scale":{"domain":[-0.0015,0.0313],"nice":false,"zero":false},"axis":{"values":[0,0.01,0.02,0.03],"format":".2f","title":"μₐ (mm⁻¹)"}},
    "y":{"field":"C","type":"quantitative","scale":{"domain":[-0.0122,0.7028],"nice":false,"zero":false},"axis":{"values":[0,0.2,0.4,0.6],"format":".1f","title":null}},
    "detail":{"field":"xi","type":"nominal"}}},
  {"data":{"name":"curves"},"transform":[{"filter":"datum.r==4&&datum.c==2"}],"mark":{"type":"point","filled":true,"fill":"white","stroke":"black","strokeWidth":1,"size":110,"opacity":1},
   "encoding":{"x":{"field":"mu","type":"quantitative","scale":{"domain":[-0.0015,0.0313],"nice":false,"zero":false},"axis":{"orient":"bottom","values":[0.005,0.015,0.025],"labels":false,"domain":false,"tickSize":2,"title":null}},
    "y":{"field":"C","type":"quantitative","scale":{"domain":[-0.0122,0.7028],"nice":false,"zero":false},"axis":{"orient":"left","values":[0.1,0.3,0.5,0.7],"labels":false,"domain":false,"tickSize":2,"title":null}},
    "shape":{"field":"s","type":"nominal","scale":{"domain":["dmu","vb"],"range":["circle","diamond"]},"legend":null}}},
  {"data":{"name":"labels"},"transform":[{"filter":"datum.r==4&&datum.c==2&&datum.k=='n'"}],"mark":{"type":"text","align":"left","baseline":"middle","fontSize":14},"encoding":{"text":{"field":"t","type":"nominal"}}}
 ],
 "resolve":{"axis":{"x":"independent","y":"independent"}}},
{"width":207,"height":158,
 "encoding":{"x":{"field":"mu","type":"quantitative","scale":{"domain":[-0.0015,0.0313],"nice":false,"zero":false},"axis":null},
  "y":{"field":"C","type":"quantitative","scale":{"domain":[-0.014,0.8],"nice":false,"zero":false},"axis":null}},
 "layer":[
  {"data":{"name":"curves"},"transform":[{"filter":"datum.r==4&&datum.c==3&&datum.s=='dmu'"}],"mark":{"type":"line","color":"black","strokeWidth":1,"strokeDash":[4,2]},"encoding":{"detail":{"field":"xi","type":"nominal"}}},
  {"data":{"name":"curves"},"transform":[{"filter":"datum.r==4&&datum.c==3&&datum.s=='vb'"}],"mark":{"type":"line","color":"black","strokeWidth":1},
   "encoding":{"x":{"field":"mu","type":"quantitative","scale":{"domain":[-0.0015,0.0313],"nice":false,"zero":false},"axis":{"values":[0,0.01,0.02,0.03],"format":".2f","title":"μₐ (mm⁻¹)"}},
    "y":{"field":"C","type":"quantitative","scale":{"domain":[-0.014,0.8],"nice":false,"zero":false},"axis":{"values":[0,0.2,0.4,0.6,0.8],"format":".1f","title":null}},
    "detail":{"field":"xi","type":"nominal"}}},
  {"data":{"name":"curves"},"transform":[{"filter":"datum.r==4&&datum.c==3"}],"mark":{"type":"point","filled":true,"fill":"white","stroke":"black","strokeWidth":1,"size":110,"opacity":1},
   "encoding":{"x":{"field":"mu","type":"quantitative","scale":{"domain":[-0.0015,0.0313],"nice":false,"zero":false},"axis":{"orient":"bottom","values":[0.005,0.015,0.025],"labels":false,"domain":false,"tickSize":2,"title":null}},
    "y":{"field":"C","type":"quantitative","scale":{"domain":[-0.014,0.8],"nice":false,"zero":false},"axis":{"orient":"left","values":[0.1,0.3,0.5,0.7],"labels":false,"domain":false,"tickSize":2,"title":null}},
    "shape":{"field":"s","type":"nominal","scale":{"domain":["dmu","vb"],"range":["circle","diamond"]},"legend":null}}},
  {"data":{"name":"labels"},"transform":[{"filter":"datum.r==4&&datum.c==3&&datum.k=='n'"}],"mark":{"type":"text","align":"left","baseline":"middle","fontSize":14},"encoding":{"text":{"field":"t","type":"nominal"}}},
  {"data":{"name":"legsym"},"transform":[{"filter":"datum.r==4"}],"mark":{"type":"rule","color":"black","strokeWidth":1},"encoding":{"x":{"field":"lo","type":"quantitative","scale":{"domain":[-0.0015,0.0313],"nice":false,"zero":false},"axis":null},"x2":{"field":"hi"}}},
  {"data":{"name":"legsym"},"transform":[{"filter":"datum.r==4"}],"mark":{"type":"point","filled":true,"fill":"white","stroke":"black","strokeWidth":1,"size":80,"opacity":1},"encoding":{"shape":{"field":"s","type":"nominal","scale":{"domain":["dmu","vb"],"range":["circle","diamond"]},"legend":null}}},
  {"data":{"name":"labels"},"transform":[{"filter":"datum.r==4&&datum.k=='lt'"}],"mark":{"type":"text","align":"left","baseline":"middle","fontSize":15},"encoding":{"text":{"field":"t","type":"nominal"}}},
  {"data":{"name":"labels"},"transform":[{"filter":"datum.r==4&&datum.k=='ll'"}],"mark":{"type":"text","align":"left","baseline":"middle","fontSize":13.5,"fontWeight":"bold"},"encoding":{"text":{"field":"t","type":"nominal"}}}
 ],
 "resolve":{"axis":{"x":"independent","y":"independent"}}}
],
"columns":3,
"spacing":{"row":44,"column":38},
"bounds":"flush",
"resolve":{"scale":{"x":"independent","y":"independent","shape":"independent"}},
"config":{
 "font":"Liberation Sans",
 "view":{"stroke":null},
 "axis":{"domainColor":"black","tickColor":"black","labelColor":"black","titleColor":"black","labelFontSize":14,"tickSize":4,"labelPadding":2,"grid":false,"domainWidth":1,"tickWidth":1,"titleFontWeight":"normal","labelFlush":false,"labelOverlap":false},
 "axisY":{"titleFontSize":16,"titleX":-35,"titleY":79},
 "axisX":{"titleFont":"Liberation Serif","titleFontSize":18,"titlePadding":8},
 "text":{"color":"black"}
}
}
